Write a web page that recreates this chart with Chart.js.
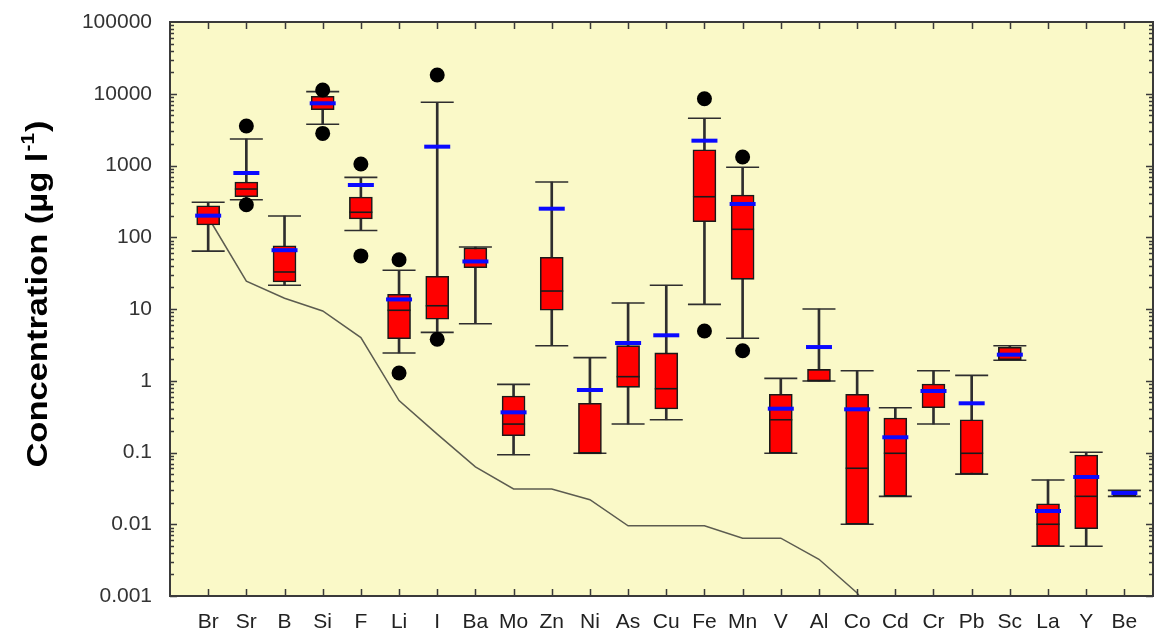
<!DOCTYPE html>
<html>
<head>
<meta charset="utf-8">
<script src="https://cdn.jsdelivr.net/npm/chart.js@4.4.1/dist/chart.umd.min.js"></script>
<style>
  html, body { margin: 0; padding: 0; background: #fff; overflow: hidden; }
  #wrap { width: 1156px; height: 634px; }
  canvas { display: block; }
</style>
</head>
<body>
<div id="wrap"><canvas id="chart"></canvas></div>
<script>
/* global Chart */
'use strict';

// ── data (µg/l) ────────────────────────────────────────────────
var elements    = ['Br','Sr','B','Si','F','Li','I','Ba','Mo','Zn','Ni','As','Cu','Fe','Mn','V','Al','Co','Cd','Cr','Pb','Sc','La','Y','Be'];
var whiskerLow  = [64, 333, 21.4, 3750, 124, 2.44, 4.73, 6.24, 0.093, 3.08, 0.0975, 0.249, 0.286, 11.6, 3.91, 0.0975, 0.993, 0.01, 0.0245, 0.249, 0.05, 1.93, 0.00493, 0.00493, 0.0245];
var quart1      = [148, 367, 23.8, 6000, 180, 3.85, 7.2, 37.7, 0.171, 9.6, 0.0975, 0.81, 0.404, 165, 25.9, 0.0975, 0.993, 0.01, 0.0245, 0.421, 0.05, 1.96, 0.00493, 0.00867, 0.0245];
var medians     = [205, 470, 32.8, 7500, 223, 9.6, 11.1, 45, 0.249, 17.8, 0.0975, 1.14, 0.775, 367, 129, 0.286, 1.0, 0.0603, 0.0975, 0.7, 0.0975, 2.3, 0.01, 0.0245, 0.027];
var quart3      = [275, 589, 76, 9200, 364, 16, 28.6, 71, 0.613, 52.5, 0.485, 3.08, 2.44, 1660, 388, 0.647, 1.44, 0.647, 0.303, 0.9, 0.286, 2.93, 0.0193, 0.0923, 0.0293];
var whiskerHigh = [307, 2340, 198, 10700, 684, 34.6, 7600, 73, 0.891, 589, 2.1, 12.1, 21.4, 4550, 944, 1.08, 10, 1.38, 0.421, 1.38, 1.19, 3.08, 0.0414, 0.1007, 0.0297];
var means       = [200, 786, 66, 7360, 535, 13.6, 1830, 46, 0.363, 250, 0.743, 3.36, 4.3, 2218, 291, 0.408, 2.95, 0.40, 0.163, 0.72, 0.485, 2.31, 0.0153, 0.0456, 0.0273];
var outlierHigh = [null, 3556, null, 11300, 1050, 48.6, 18250, null, null, null, null, null, null, 8530, 1313, null, null, null, null, null, null, null, null, null, null];
var outlierLow  = [null, 284, null, 2800, 55, 1.28, 3.78, null, null, null, null, null, null, 4.94, 2.62, null, null, null, null, null, null, null, null, null, null];
var refLine     = [190, 24.5, 14.1, 9.4, 4.0, 0.53, 0.18, 0.063, 0.031, 0.031, 0.022, 0.0095, 0.0095, 0.0095, 0.0064, 0.0064, 0.00325, 0.0011, 0.0002, null, null, null, null, null, null];
var yTickLabels = ['0.001', '0.01', '0.1', '1', '10', '100', '1000', '10000', '100000'];

// ── helpers ────────────────────────────────────────────────────
function pts(arr) {
  var out = [];
  for (var i = 0; i < arr.length; i++) {
    if (arr[i] !== null) out.push({ x: i + 1, y: arr[i] });
  }
  return out;
}
function ranges(lo, hi) {
  return lo.map(function (v, i) { return { x: i + 1, y: [v, hi[i]] }; });
}

var FRAME = '#3a3a3a';
var FONT = '"Liberation Sans", Arial, sans-serif';

// background + frame with inward ticks + y title
var framePlugin = {
  id: 'frame',
  beforeDraw: function (chart) {
    var a = chart.chartArea, ctx = chart.ctx;
    ctx.save();
    ctx.fillStyle = '#faf9c8';
    ctx.fillRect(a.left, a.top, a.right - a.left, a.bottom - a.top);
    ctx.restore();
  },
  afterDatasetsDraw: function (chart) {
    var a = chart.chartArea, ctx = chart.ctx;
    var ys = chart.scales.y, xs = chart.scales.x;
    ctx.save();
    ctx.strokeStyle = FRAME;
    ctx.lineWidth = 1.5;
    ctx.beginPath();
    for (var e = -3; e <= 4; e++) {
      for (var k = 1; k <= 9; k++) {
        var py = Math.round(ys.getPixelForValue(k * Math.pow(10, e))) + 0.5;
        var len = k === 1 ? 7 : 4;
        ctx.moveTo(a.left, py); ctx.lineTo(a.left + len, py);
        ctx.moveTo(a.right, py); ctx.lineTo(a.right - len, py);
      }
    }
    for (var i = 0; i < elements.length; i++) {
      var px = Math.round(xs.getPixelForValue(i + 1)) + 0.5;
      ctx.moveTo(px, a.top); ctx.lineTo(px, a.top + 7);
      ctx.moveTo(px, a.bottom); ctx.lineTo(px, a.bottom - 7);
    }
    ctx.stroke();
    ctx.lineWidth = 2;
    ctx.strokeRect(a.left, a.top, a.right - a.left, a.bottom - a.top);
    ctx.restore();
  },
  afterDraw: function (chart) {
    var ctx = chart.ctx;
    var main = 'Concentration (\u00b5g l', sup = '-1', tail = ')';
    ctx.save();
    ctx.translate(47, 294);
    ctx.rotate(-Math.PI / 2);
    ctx.scale(1.15, 1);
    ctx.fillStyle = '#000';
    ctx.textBaseline = 'alphabetic';
    var bigFont = 'bold 30px ' + FONT;
    var smallFont = 'bold 18px ' + FONT;
    ctx.font = bigFont;
    var wMain = ctx.measureText(main).width, wTail = ctx.measureText(tail).width;
    ctx.font = smallFont;
    var wSup = ctx.measureText(sup).width;
    var x0 = -(wMain + wSup + wTail + 2) / 2;
    ctx.font = bigFont;
    ctx.fillText(main, x0, 0);
    ctx.font = smallFont;
    ctx.fillText(sup, x0 + wMain + 1, -13);
    ctx.font = bigFont;
    ctx.fillText(tail, x0 + wMain + wSup + 2, 0);
    ctx.restore();
  }
};

new Chart(document.getElementById('chart'), {
  type: 'bar',
  data: {
    datasets: [
      {
        type: 'line', label: 'reference', data: pts(refLine),
        borderColor: '#5c5c50', borderWidth: 1.5, pointRadius: 0, tension: 0, order: 9
      },
      {
        label: 'whisker', data: ranges(whiskerLow, whiskerHigh),
        backgroundColor: '#2e2e2e', borderWidth: 0, barThickness: 2, grouped: false, order: 8
      },
      {
        type: 'scatter', label: 'capLow', data: pts(whiskerLow),
        pointStyle: 'line', pointRadius: 16.5, borderColor: '#2e2e2e', borderWidth: 1.6, order: 7
      },
      {
        type: 'scatter', label: 'capHigh', data: pts(whiskerHigh),
        pointStyle: 'line', pointRadius: 16.5, borderColor: '#2e2e2e', borderWidth: 1.6, order: 7
      },
      {
        label: 'box', data: ranges(quart1, quart3),
        backgroundColor: '#ff0000', borderColor: '#1a1a1a', borderWidth: 1.6,
        borderSkipped: false, barThickness: 23, grouped: false, order: 6
      },
      {
        type: 'scatter', label: 'median', data: pts(medians),
        pointStyle: 'line', pointRadius: 11.5, borderColor: '#1a1a1a', borderWidth: 1.6, order: 5
      },
      {
        type: 'scatter', label: 'mean', data: pts(means),
        pointStyle: 'line', pointRadius: 13, borderColor: '#0a0aff', borderWidth: 4, order: 4
      },
      {
        type: 'scatter', label: 'outHigh', data: pts(outlierHigh),
        pointStyle: 'circle', pointRadius: 7.5, backgroundColor: '#000', borderWidth: 0, order: 3
      },
      {
        type: 'scatter', label: 'outLow', data: pts(outlierLow),
        pointStyle: 'circle', pointRadius: 7.5, backgroundColor: '#000', borderWidth: 0, order: 3
      }
    ]
  },
  options: {
    responsive: true,
    maintainAspectRatio: false,
    animation: false,
    events: [],
    layout: { autoPadding: false, padding: { top: 22, right: 3, left: 0, bottom: 0 } },
    plugins: { legend: { display: false }, tooltip: { enabled: false } },
    scales: {
      x: {
        type: 'linear', min: 0, max: 25.75, bounds: 'data', offset: false,
        grid: { display: false, drawTicks: false, offset: false },
        border: { display: false },
        afterBuildTicks: function (s) {
          s.ticks = elements.map(function (e, i) { return { value: i + 1 }; });
        },
        afterFit: function (s) { s.height = 38; s.paddingLeft = 0; s.paddingRight = 0; },
        ticks: {
          autoSkip: false, maxRotation: 0, padding: 14,
          color: '#222', font: { family: FONT, size: 21 },
          callback: function (v) { return elements[Math.round(v) - 1] || ''; }
        }
      },
      y: {
        type: 'logarithmic', min: 0.001, max: 100000,
        grid: { display: false, drawTicks: false },
        border: { display: false },
        afterFit: function (s) { s.width = 170; s.paddingTop = 0; s.paddingBottom = 0; },
        ticks: {
          autoSkip: false, padding: 18,
          color: '#333', font: { family: FONT, size: 21 },
          callback: function (v) {
            var l = Math.log10(v), r = Math.round(l);
            if (Math.abs(l - r) > 1e-6) return '';
            return yTickLabels[r + 3];
          }
        }
      }
    }
  },
  plugins: [framePlugin]
});
</script>
</body>
</html>
